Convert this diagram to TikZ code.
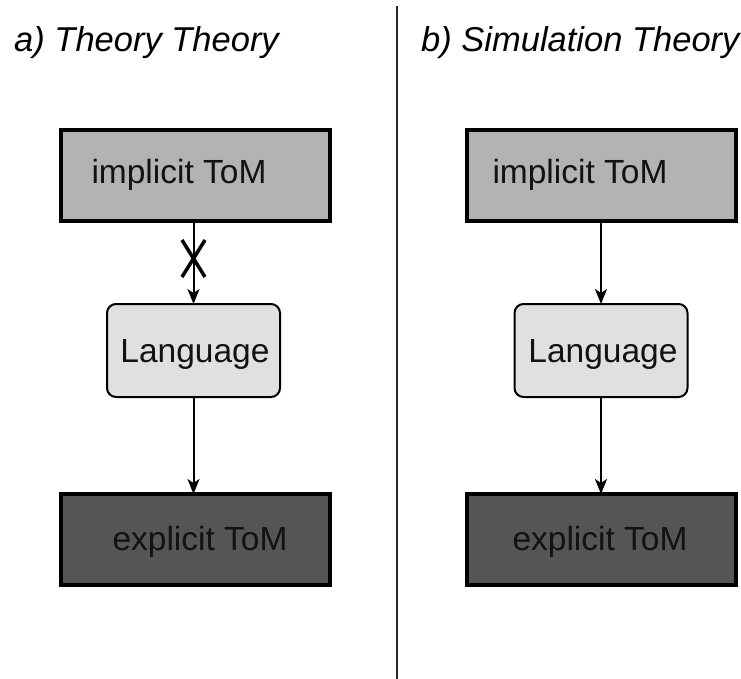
\documentclass[tikz,border=0pt]{standalone}
\usepackage{fontspec}
\setmainfont{Liberation Sans}
\usetikzlibrary{arrows.meta}
\definecolor{implicitgray}{HTML}{B3B3B3}
\definecolor{langgray}{HTML}{E0E0E0}
\definecolor{explicitgray}{HTML}{555555}
\begin{document}
\begin{tikzpicture}[x=1pt,y=-1pt,
  tombox/.style={draw=black, line width=4pt, rectangle, inner sep=0pt, outer sep=0pt,
    minimum width=269pt, minimum height=91pt},
  langbox/.style={draw=black, line width=2pt, fill=langgray, rectangle, rounded corners=9pt,
    inner sep=0pt, outer sep=0pt, minimum width=173pt, minimum height=93pt},
  boxtext/.style={anchor=base, inner sep=0pt, font=\fontsize{33.5}{40}\selectfont, text=black!93},
  heading/.style={anchor=base west, inner sep=0pt, font=\fontsize{34.5}{41}\selectfont\itshape},
  flow/.style={draw=black, line width=2pt, -{Stealth[length=15pt, width=12pt, inset=4pt]}},
]
\useasboundingbox (0,0) rectangle (741,679);

% column divider
\draw[line width=1.5pt, black!85] (397,6) -- (397,679);

% headings
\node[heading] (headA) at (14,52) {a) Theory Theory};
\node[heading] (headB) at (421,52) {b) Simulation Theory};

% a) Theory Theory
\node[tombox, fill=implicitgray] (topA) at (195,175.5) {};
\node[boxtext] (topAtxt) at (179,183) {implicit ToM};
\node[langbox] (langA) at (193.5,350.5) {};
\node[boxtext] (langAtxt) at (195,362) {Language};
\node[tombox, fill=explicitgray] (expA) at (195,539.5) {};
\node[boxtext] (expAtxt) at (200,550) {explicit ToM};

\draw[flow] (topA.south -| langA.north) -- (langA.north);
\draw[flow] (langA.south) -- (expA.north -| langA.south);

% blocked link
\draw[line width=3.5pt, black] (182,240) -- (205,277);
\draw[line width=3.5pt, black] (205,240) -- (182,277);

% b) Simulation Theory
\node[tombox, fill=implicitgray] (topB) at (601.5,175.5) {};
\node[boxtext] (topBtxt) at (580,184) {implicit ToM};
\node[langbox] (langB) at (601,350.5) {};
\node[boxtext] (langBtxt) at (603,362) {Language};
\node[tombox, fill=explicitgray] (expB) at (601.5,539.5) {};
\node[boxtext] (expBtxt) at (600,550) {explicit ToM};

\draw[flow] (topB.south -| langB.north) -- (langB.north);
\draw[flow] (langB.south) -- (expB.north -| langB.south);
\end{tikzpicture}
\end{document}
